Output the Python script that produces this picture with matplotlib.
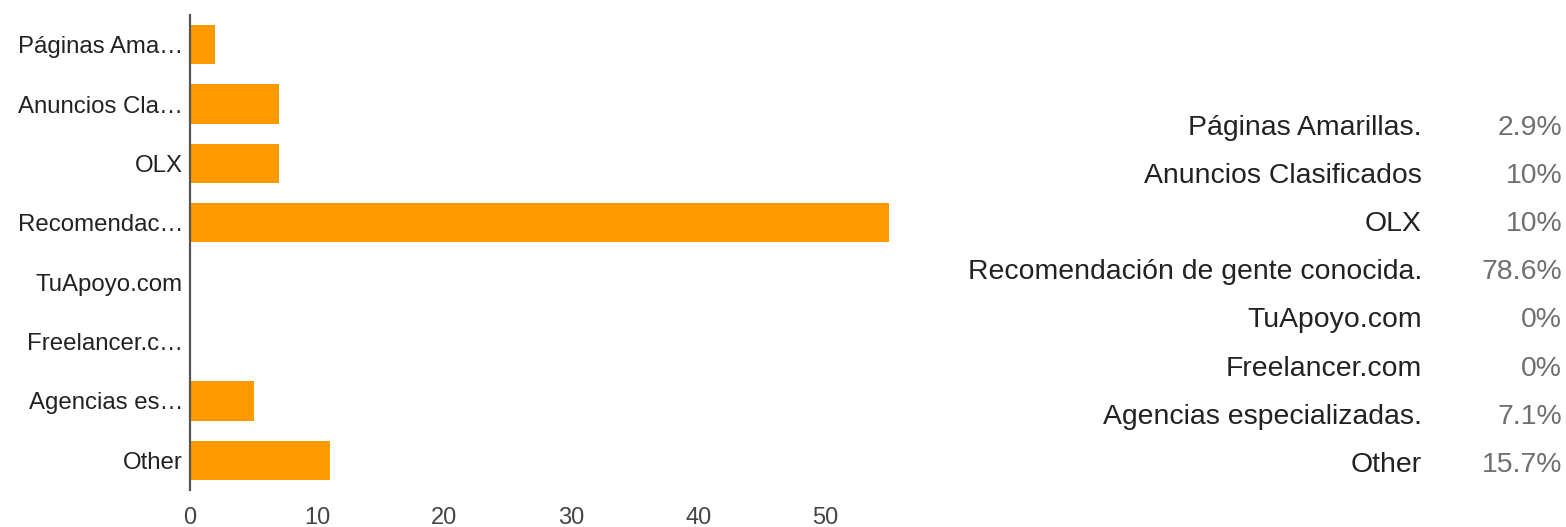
import matplotlib
matplotlib.use("Agg")
import matplotlib.pyplot as plt

plt.rcParams['font.family'] = ['Liberation Sans', 'DejaVu Sans']

# Data
short_labels = ["Páginas Ama…", "Anuncios Cla…", "OLX", "Recomendac…",
                "TuApoyo.com", "Freelancer.c…", "Agencias es…", "Other"]
full_labels = ["Páginas Amarillas.", "Anuncios Clasificados", "OLX",
               "Recomendación de gente conocida.", "TuApoyo.com",
               "Freelancer.com", "Agencias especializadas.", "Other"]
counts = [2, 7, 7, 55, 0, 0, 5, 11]
percents = ["2.9%", "10%", "10%", "78.6%", "0%", "0%", "7.1%", "15.7%"]
xticks = [0, 10, 20, 30, 40, 50]

W, H = 1566, 527
fig = plt.figure(figsize=(W / 100, H / 100), dpi=100)

# axes box in pixels: left 190, right 889, top 15, bottom 490
ax = fig.add_axes([190 / W, 1 - 490 / H, (889 - 190) / W, (490 - 15) / H])
ypos = list(range(len(counts)))
ax.barh(ypos, counts, height=0.66, color="#FF9900", edgecolor="none")
ax.set_xlim(0, 55)
ax.set_ylim(len(counts) - 0.5, -0.5)
ax.set_yticks(ypos)
ax.set_yticklabels(short_labels, fontsize=17.3, color="#222222")
ax.set_xticks(xticks)
ax.set_xticklabels([str(t) for t in xticks], fontsize=17, color="#444444")
ax.tick_params(axis="y", length=0, pad=5)
ax.tick_params(axis="x", length=0, pad=12)
for s in ["top", "right", "bottom"]:
    ax.spines[s].set_visible(False)
ax.spines["left"].set_color("#555555")
ax.spines["left"].set_linewidth(1.6)
ax.set_facecolor("none")

# Right-hand summary table
row0, row_step = 128, 48.1
for i, (lab, pct) in enumerate(zip(full_labels, percents)):
    yc = 1 - (row0 + i * row_step) / H
    fig.text(1422 / W, yc, lab, ha="right", va="center", fontsize=20.4,
             color="#222222")
    fig.text(1562 / W, yc, pct, ha="right", va="center", fontsize=20.4,
             color="#6f6f6f")

fig.savefig("out.png", dpi=100)
